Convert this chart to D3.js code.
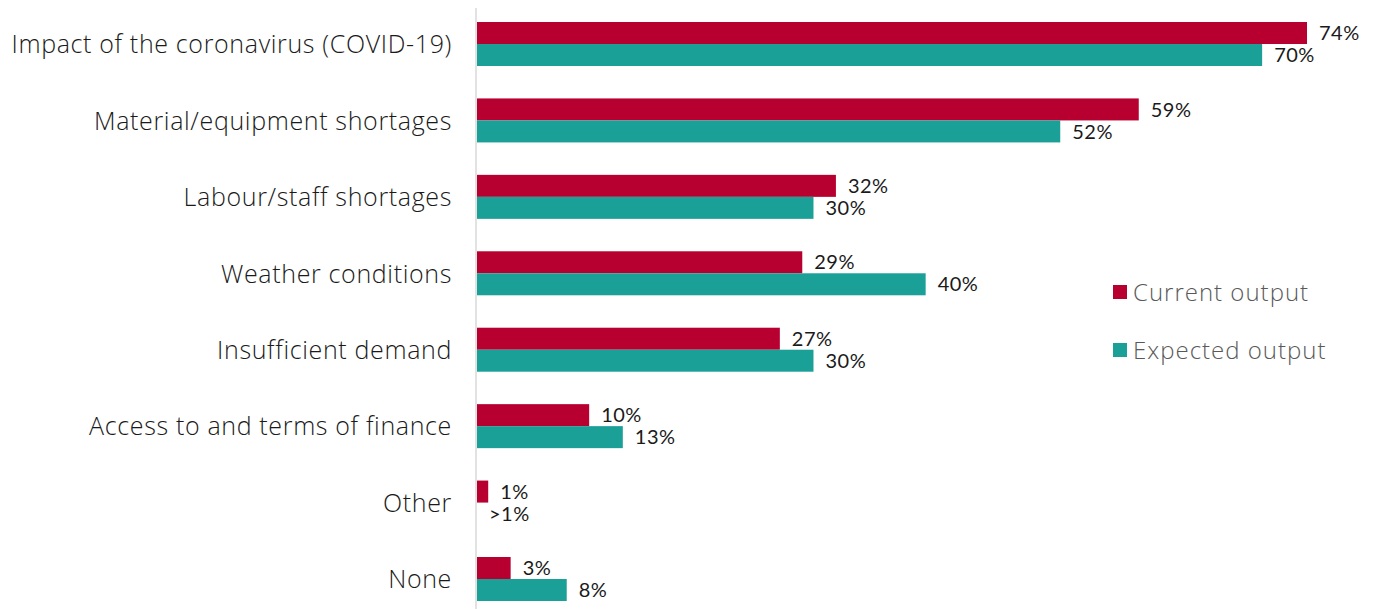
<!DOCTYPE html>
<html>
<head>
<meta charset="utf-8">
<script src="https://cdn.jsdelivr.net/npm/d3@7"></script>
<style>
  html, body { margin: 0; padding: 0; background: #fff; }
  svg { display: block; }
</style>
</head>
<body>
<svg id="chart" width="1376" height="609"></svg>
<script>
// Factors limiting output: share of respondents
const categories = [
  "Impact of the coronavirus (COVID-19)",
  "Material/equipment shortages",
  "Labour/staff shortages",
  "Weather conditions",
  "Insufficient demand",
  "Access to and terms of finance",
  "Other",
  "None"
];
const currentOutput  = [74, 59, 32, 29, 27, 10, 1, 3];
const expectedOutput = [70, 52, 30, 40, 30, 13, 0, 8];
const currentLabels  = ["74%", "59%", "32%", "29%", "27%", "10%", "1%", "3%"];
const expectedLabels = ["70%", "52%", "30%", "40%", "30%", "13%", ">1%", "8%"];
const seriesNames = ["Current output", "Expected output"];
const seriesColors = ["#b7002f", "#1ba098"];

const svg = d3.select("#chart");

const x = d3.scaleLinear().domain([0, 74]).range([477, 1307]);
const y = d3.scalePoint().domain(categories).range([44, 579]);
const inner = d3.scaleBand().domain(seriesNames).range([-22, 22]);

const rows = categories.map((c, i) => ({
  cat: c,
  vals: [
    { s: seriesNames[0], v: currentOutput[i], label: currentLabels[i] },
    { s: seriesNames[1], v: expectedOutput[i], label: expectedLabels[i] }
  ]
}));

// Category axis
const axis = svg.append("g")
  .attr("transform", `translate(${x(0) - 1},0)`)
  .call(d3.axisLeft(y).tickSize(0).tickPadding(24));
axis.select(".domain")
  .attr("d", "M0,8V609")
  .attr("stroke", "#d9d9d9")
  .attr("stroke-width", 1.5);
axis.selectAll(".tick text")
  .attr("font-family", "'Open Sans', sans-serif")
  .attr("font-weight", 300)
  .attr("font-size", 25)
  .attr("letter-spacing", 0.65)
  .attr("fill", "#1a1a1a")
  .attr("dy", "0.35em");

// Bars and value labels
const groups = svg.append("g").selectAll("g")
  .data(rows)
  .join("g")
  .attr("transform", d => `translate(0,${y(d.cat)})`);

groups.selectAll("rect")
  .data(d => d.vals)
  .join("rect")
  .attr("x", x(0))
  .attr("y", d => inner(d.s))
  .attr("width", d => x(d.v) - x(0))
  .attr("height", inner.bandwidth())
  .attr("fill", (d, i) => seriesColors[i]);

groups.selectAll("text.val")
  .data(d => d.vals)
  .join("text")
  .attr("class", "val")
  .attr("x", d => x(d.v) + 12)
  .attr("y", d => inner(d.s) + inner.bandwidth() / 2)
  .attr("dy", "0.36em")
  .attr("font-family", "Lato, sans-serif")
  .attr("font-size", 20)
  .attr("letter-spacing", 0.5)
  .attr("fill", "#1a1a1a")
  .text(d => d.label);

// Legend
const legend = svg.append("g").selectAll("g")
  .data(seriesNames)
  .join("g")
  .attr("transform", (d, i) => `translate(1113,${292 + i * 58})`);

legend.append("rect")
  .attr("x", 0).attr("y", -7)
  .attr("width", 14).attr("height", 14)
  .attr("fill", (d, i) => seriesColors[i]);

legend.append("text")
  .attr("x", 20)
  .attr("dy", "0.36em")
  .attr("font-family", "'Open Sans', sans-serif")
  .attr("font-weight", 300)
  .attr("font-size", 24)
  .attr("letter-spacing", 1)
  .attr("fill", "#595959")
  .text(d => d);
</script>
</body>
</html>
